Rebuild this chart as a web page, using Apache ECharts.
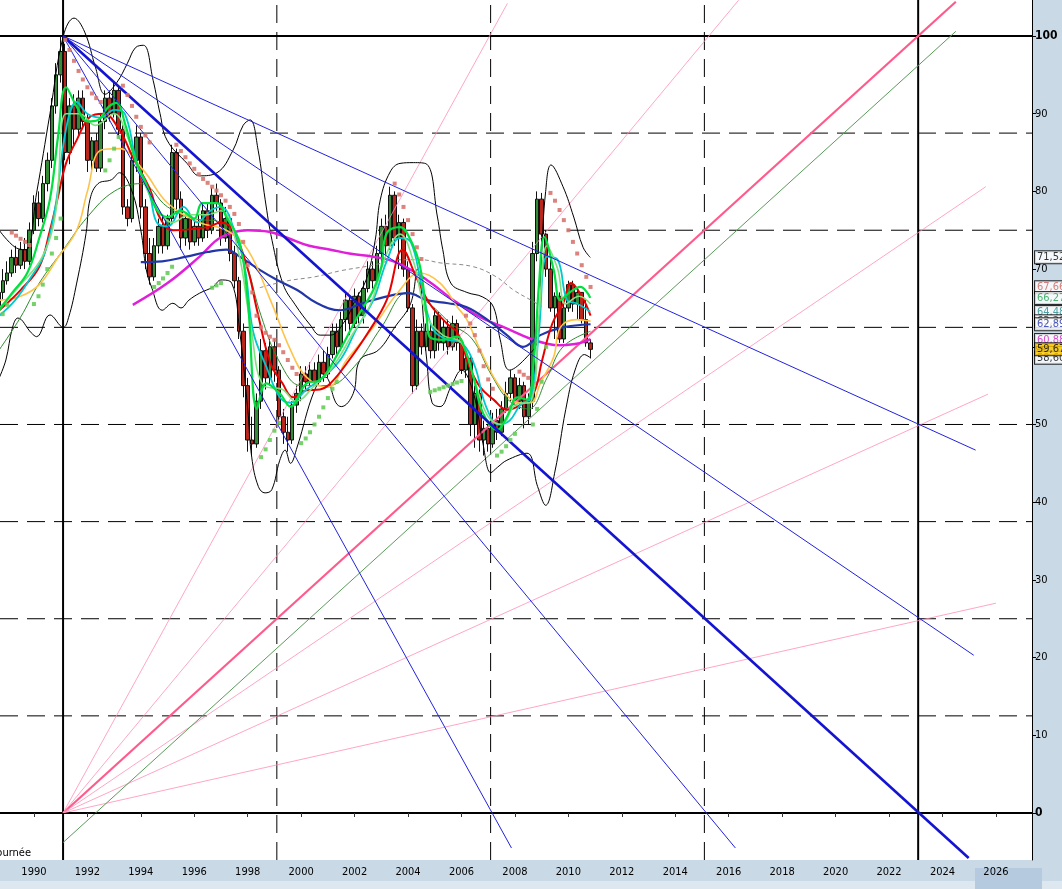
<!DOCTYPE html>
<html><head><meta charset="utf-8">
<script src="https://cdn.jsdelivr.net/npm/echarts@6/dist/echarts.min.js"></script>
<style>html,body{margin:0;padding:0;background:#fff}#c{width:1062px;height:889px}</style>
</head><body><div id="c"></div>
<script>
// ---------- DATA ----------
const xTickLabels = [1990,1992,1994,1996,1998,2000,2002,2004,2006,2008,2010,2012,2014,2016,2018,2020,2022,2024,2026];
const yTickLabels = [0,10,20,30,40,50,60,70,80,90,100];
const candleStart = 1988 + 8/12;   // first bar (Sep 1988), bimonthly bars
const candleStep = 1/6;
// [open, close, low, high]
const ohlc = [
[65,67,64.5,68],[67,68.5,66,70],
[68.5,69.5,68,71],[69.5,71.5,69,72.5],[71.5,70.5,69.5,73],[70.5,72.5,70,73.5],[72.5,71,70,74],[71,75,70.5,76],
[75,78.5,74.5,79.5],[78.5,76.5,75.5,80],[76.5,81,76,82],[81,84,80,85],[84,91,83,92],[91,95,90,96.5],
[95,98,94,100],[98,85,84,99],[85,91,83.5,92],[91,88,86,92.5],[88,92,87,93],[92,89,88,93],
[89,84,82.5,90],[84,86.5,82.7,87],[86.5,83,82.5,87.5],[83,89,82.5,90],[89,92,88,93],[92,90,89,93],
[90,93,89.5,94],[93,88,87,93.5],[88,78,77,88.5],[78,76.5,75.5,79],[76.5,84,76,85],[84,87,82.5,88.5],
[87,78,76.5,87.5],[78,72,70,79],[72,69,68,74],[69,73,68.5,74],[73,75.5,72,76.5],[75.5,73,72,77],
[73,76.5,72.5,77],[76.5,85,76,86],[85,79,77,85.5],[79,74,72.5,80],[74,76.5,73,77],[76.5,73.5,72.5,77],
[73.5,75.5,73,76.5],[75.5,74,73,77],[74,77.5,73.5,78.5],[77.5,75,74,78.5],[75,79.5,74.5,80.5],[79.5,78.5,77.5,81],
[78.5,74,73,79],[74,76.5,73.5,78],[76.5,72,71,77],[72,68.5,67.5,73],[68.5,62,61,69],[62,55,53.5,63],
[55,48,46.5,56],[48,47.5,46,51],[47.5,53,47,54],[53,59.5,52,61],[59.5,56,54.5,60.5],[56,60,55,61],
[60,57,55.5,61],[57,51,50,57.5],[51,49,47.5,52],[49,48,46.5,51],[48,52.5,47.5,53],[52.5,54,51.5,55],
[54,56.5,53,57.5],[56.5,55.5,54.5,57.5],[55.5,57,55,58],[57,55.5,55,58],[55.5,58,55,59],[58,56.5,55.5,59.5],
[56.5,59,56,60],[59,62,58.5,63],[62,60,59,63],[60,63.5,59.5,64.5],[63.5,66,62,67],[66,63,61.5,66.5],
[63,66.5,62.5,67.5],[66.5,64,63,67],[64,67.5,63,68.5],[67.5,70,67,71],[70,68.5,67.5,71],[68.5,72,68,73],
[72,75.5,70.5,76.5],[75.5,73,71.5,77],[73,79.5,72.5,80.6],[79.5,74,73,80],[74,76,70,77],[76,70,69,76.5],
[70,65,64.5,71],[65,55,54,65.5],[55,62,54.5,63.5],[62,60,59,63],[60,62,59.5,63],[62,59.5,58.5,63],
[59.5,64,58.5,65],[64,60.5,59.5,64.5],[60.5,62.5,59.5,63.5],[62.5,60,59,63.5],[60,63,59.5,64],[63,60.5,59.5,63.5],
[60.5,57,56.5,61],[57,58.5,56,59.5],[58.5,50,48.5,59],[50,54,47,55],[54,48,46.5,54.5],[48,49.5,46,50.5],
[49.5,47.5,46.5,50],[47.5,50.5,47,51.5],[50.5,49,48,52],[49,52,48.5,53],[52,54,51.5,55.5],[54,56,53,57],
[56,53,52.5,56.5],[53,55,52,56],[55,51,49.5,55.5],[51,53,50,54],[53,72,52,73.5],[72,79,71,80],
[79,74.5,73.5,79.8],[74.5,70,69,75],[70,65,64.5,71.5],[65,66.5,61,67],[66.5,61,60.5,67],[61,65,60.5,66],
[65,68,64.5,68.5],[68,65.5,64.5,68.5],[65.5,67,63.5,67.5],[67,63.5,63,67],[63.5,60.5,60,66],[60.5,59.67,58.5,61]
];
// indicator curves: [year, value]
const maRed = [[1988.7,64.7],[1989.5,67.3],[1990.2,70.3],[1990.6,75],[1990.9,79.3],[1991.2,83.6],[1991.6,86.6],[1992.1,89.6],[1992.6,90],[1993.2,87.9],[1993.7,84.4],[1994.35,80.2],[1994.7,76.7],[1995.2,75],[1996.5,75.4],[1997.0,76],[1997.45,75],[1998.0,70],[1998.35,64.7],[1998.85,57.9],[1999.3,55.3],[1999.7,53.5],[2000.2,54.4],[2000.7,54.5],[2001.1,55.3],[2001.8,58.3],[2002.5,61.8],[2003.2,66],[2003.8,72.5],[2004.3,69],[2004.8,65.6],[2005.45,63],[2005.85,61.8],[2006.3,57.4],[2006.7,54.8],[2007.2,53.2],[2007.7,51.9],[2008.2,52.5],[2008.7,54],[2009.0,58],[2009.4,63],[2009.8,65.5],[2010.1,68.2],[2010.5,66.5],[2010.83,64]];
const maYellow = [[1988.7,66],[1989.5,66.5],[1990.2,68],[1990.9,71.5],[1991.6,75],[1992.0,80],[1992.5,85.3],[1993.2,85.5],[1994.1,82.7],[1995.0,78.5],[1996.2,76],[1997.2,75],[1998.0,72.5],[1998.85,66],[1999.6,59.6],[2000.2,56.1],[2001.0,54.8],[2001.7,58.3],[2002.7,62.5],[2003.6,66.9],[2004.45,69.5],[2005.2,68.2],[2005.85,65.1],[2006.2,63.5],[2006.7,59.6],[2007.45,54.8],[2008.2,52.8],[2008.6,52.8],[2008.95,55.3],[2009.45,58.7],[2009.7,62.5],[2010.3,63.5],[2010.83,63.3]];
const maGreen = [[1988.7,64.7],[1989.2,67],[1989.75,69.5],[1990.2,74],[1990.6,79],[1990.9,87],[1991.2,93.4],[1991.6,90.9],[1992.0,89],[1992.4,89.2],[1992.8,90.9],[1993.1,91.4],[1993.4,88.8],[1993.8,84],[1994.2,81],[1994.6,77.6],[1995.0,76.7],[1995.5,77.5],[1996.0,76.5],[1996.3,78.5],[1996.85,78.5],[1997.2,76.7],[1997.7,73.4],[1998.0,66],[1998.35,52],[1998.7,55.3],[1999.2,54],[1999.6,52.3],[2000.2,55.3],[2000.7,55.7],[2001.45,59.6],[2002.1,63.8],[2002.7,67.3],[2003.0,70.3],[2003.2,74.6],[2003.7,75.4],[2004.1,73.7],[2004.45,70.3],[2004.7,63.8],[2004.8,61.3],[2005.3,60.9],[2005.85,61.3],[2006.1,60],[2006.45,56.1],[2006.8,51.5],[2007.35,49.3],[2007.7,51],[2008.1,53.5],[2008.45,53.2],[2008.7,58],[2008.9,68],[2009.1,74.1],[2009.45,69.9],[2009.7,66],[2010.05,67],[2010.45,67.7],[2010.7,67],[2010.82,66.3]];
const maCyan = [[1988.7,64],[1989.3,66],[1989.9,69],[1990.4,72],[1990.8,78],[1991.2,88],[1991.6,91.5],[1992.0,90],[1992.5,89.5],[1993.0,90.5],[1993.4,90],[1993.85,83.7],[1994.35,79.3],[1994.6,76],[1995.0,75.5],[1995.6,78],[1996.1,76],[1996.6,77.5],[1997.0,78],[1997.5,75],[1997.9,70],[1998.2,62],[1998.7,57.4],[1999.2,53.5],[1999.6,52.8],[2000.2,54.5],[2000.8,56],[2001.5,58.5],[2002.1,62.5],[2002.7,66],[2003.2,71],[2003.7,74],[2004.1,73.5],[2004.5,68],[2004.9,62.5],[2005.4,61],[2006.0,60.5],[2006.5,57.5],[2006.9,52.5],[2007.4,50],[2007.8,50.5],[2008.2,52.5],[2008.6,53.5],[2008.9,62],[2009.2,71.6],[2009.6,71.2],[2009.95,66],[2010.3,65.6],[2010.82,64.5]];
const maLime = [[1988.7,65],[1989.5,68],[1990.3,71.5],[1990.8,77],[1991.2,90],[1991.7,90],[1992.3,88.5],[1993.0,90],[1993.5,87],[1994.0,82],[1994.6,78],[1995.2,76],[1995.8,77],[1996.5,77],[1997.0,77.5],[1997.6,73],[1998.1,63],[1998.6,55],[1999.3,54.5],[1999.8,53],[2000.5,55],[2001.2,57.5],[2001.9,61.5],[2002.6,65.5],[2003.2,72],[2003.7,74.5],[2004.2,71],[2004.7,64],[2005.3,61.5],[2006.0,60.5],[2006.5,55.5],[2007.0,51],[2007.5,50],[2008.0,52.5],[2008.6,53],[2008.9,64],[2009.2,73],[2009.6,70],[2009.9,65.5],[2010.4,66.5],[2010.83,65.5]];
const maDarkGreen = [[1988.7,59.6],[1989.5,63.8],[1990.2,68.2],[1991.1,72.5],[1992.0,76.7],[1993.0,80],[1994.0,81],[1995.0,78],[1996.0,76.5],[1997.0,76],[1997.8,72],[1998.5,64],[1999.2,58],[2000.0,55],[2001.0,55],[2002.0,57.5],[2003.0,62.5],[2004.0,67],[2004.8,65.5],[2005.6,63],[2006.4,61],[2007.1,56.5],[2007.8,53],[2008.5,52],[2009.2,56],[2009.8,60],[2010.83,62]];
const maBlue = [[1994.0,70.9],[1994.8,71],[1995.7,71.6],[1996.5,72.2],[1997.2,72.5],[1997.7,71.6],[1998.45,69.9],[1999.1,68.6],[1999.85,67.3],[2000.6,65.6],[2001.45,64.7],[2002.3,65.6],[2003.1,66.4],[2004.0,66.9],[2004.7,66],[2005.5,65.6],[2006.2,65.1],[2007.0,63.4],[2007.7,61.5],[2008.3,60],[2008.95,61.5],[2009.8,62.5],[2010.83,62.9]];
const maMagenta = [[1993.7,65.4],[1995.0,68.2],[1996.2,71.6],[1997.0,74.1],[1998.0,75],[1998.8,74.8],[1999.5,74],[2000.3,73],[2001.1,72.5],[2001.8,72],[2002.7,71.6],[2003.6,70.8],[2004.7,68.6],[2005.7,66],[2006.7,63.8],[2007.6,62.5],[2008.6,61],[2009.2,60.4],[2009.7,60.2],[2010.3,60.4],[2010.55,60.6],[2010.83,61]];
const maGrayDash = [[1998.45,67.6],[1999.5,68.5],[2000.5,69],[2001.5,69.8],[2002.7,70.5],[2003.6,71.2],[2004.5,71.2],[2005.2,70.8],[2006.45,70.3],[2007.3,69],[2007.95,67.3],[2008.6,66],[2009.0,65.2]];
const bbUpper = [[1988.7,75],[1989.3,72.8],[1989.7,72.5],[1990.1,79.8],[1990.6,90],[1991.1,100],[1991.5,102.3],[1991.9,100.5],[1992.3,96],[1992.66,92.5],[1993.1,94],[1993.5,96.5],[1993.8,98.5],[1994.1,98.8],[1994.46,94.3],[1994.72,90],[1994.98,86.6],[1995.73,83.6],[1996.2,82],[1996.85,82.4],[1997.45,85.3],[1997.83,88.5],[1998.09,89.2],[1998.39,85.3],[1998.65,79],[1998.91,73.7],[1999.33,68],[1999.78,65.4],[2000.34,62.8],[2000.71,61.5],[2001.09,61.5],[2001.65,63.4],[2002.02,66],[2002.43,68.6],[2002.77,73.7],[2002.96,78.9],[2003.33,82.5],[2003.7,83.6],[2004.2,83.7],[2004.7,83.5],[2005.1,76.7],[2005.3,72.5],[2005.6,68.2],[2006.2,67],[2006.8,66.4],[2007.2,65.1],[2007.45,60.9],[2007.8,57],[2008.45,58.7],[2008.85,60.9],[2009.0,72],[2009.15,80],[2009.35,83.4],[2009.8,80.6],[2010.2,76.7],[2010.55,72.8],[2010.82,71.5]];
const bbLower = [[1988.7,56],[1988.95,58.3],[1989.2,62.5],[1989.4,63.7],[1989.9,61.8],[1990.1,61.3],[1990.6,64.1],[1991.1,62.5],[1991.3,63.8],[1991.6,68.2],[1991.95,74.6],[1992.1,79],[1992.4,81],[1992.9,81.5],[1993.2,82.4],[1993.65,80.2],[1994.0,75],[1994.2,70],[1994.4,67.7],[1994.8,64.7],[1995.2,65.6],[1995.5,65],[1995.8,66],[1996.2,66.9],[1996.7,67.7],[1997.0,68.6],[1997.4,68.2],[1997.7,62],[1998.0,52],[1998.15,45.8],[1998.4,42],[1998.65,41.2],[1998.9,41.6],[1999.2,45.4],[1999.4,46.7],[1999.6,45],[1999.85,47.1],[2000.5,54.4],[2000.9,56.1],[2001.3,52.8],[2001.5,52.3],[2001.95,54],[2002.2,58.3],[2002.9,59.6],[2003.5,62.5],[2004.1,65.6],[2004.34,70],[2004.7,58.3],[2004.9,52.8],[2005.2,52.3],[2005.6,54.8],[2006.0,57],[2006.45,54],[2006.8,47.6],[2007.1,43.8],[2007.35,44.5],[2007.7,45.4],[2008.45,46.3],[2008.85,42],[2009.15,39.6],[2009.5,44],[2009.9,51.9],[2010.25,57],[2010.6,59],[2010.82,58.6]];
const sarAbove = [[1989.17,74.7],[1989.33,74.3],[1989.5,73.9],[1989.67,73.5],[1989.83,73.1],
[1991.17,99.5],[1991.33,98.2],[1991.5,96.8],[1991.67,95.5],[1991.83,94.4],[1992.0,93.4],[1992.17,92.6],[1992.33,92],[1992.5,91.5],
[1993.33,93.6],[1993.5,92.4],[1993.67,91],[1993.83,89.6],[1994.0,88.3],[1994.17,87.2],[1994.33,86.3],
[1995.33,86],[1995.5,85.2],[1995.67,84.4],[1995.83,83.6],[1996.0,82.9],[1996.17,82.2],[1996.33,81.6],[1996.5,81.1],[1996.67,80.6],[1996.83,80.1],[1997.0,79.5],[1997.17,78.8],[1997.33,78],[1997.5,77.1],[1997.67,75.8],[1997.83,73.5],[1998.0,70.5],[1998.17,67],[1998.33,64],[1998.5,62.5],[1998.67,61.8],[1998.83,61.3],[1999.0,60.9],[1999.17,60.2],[1999.33,59.3],[1999.5,58.3],[1999.67,57.3],[1999.83,56.5],
[2003.5,81],[2003.67,79.6],[2003.83,78],[2004.0,76.3],[2004.17,74.5],[2004.33,72.8],[2004.5,71.3],
[2006.17,64],[2006.33,63],[2006.5,61.5],[2006.67,59.5],[2006.83,57.5],[2007.0,55.8],[2007.17,54.6],
[2008.17,56.8],[2008.33,56.4],[2008.5,56],
[2009.33,79.8],[2009.5,78.8],[2009.67,77.6],[2009.83,76.3],[2010.0,75],[2010.17,73.5],[2010.33,72],[2010.5,70.5],[2010.67,69],[2010.83,67.7]];
const sarBelow = [[1988.67,63],[1988.83,64.2],[1989.0,65.4],
[1990.0,65.5],[1990.17,66.5],[1990.33,68],[1990.5,70],[1990.67,72],[1990.83,74],[1991.0,76.5],
[1992.67,82.7],[1992.83,84],[1993.0,85.5],[1993.17,87],
[1994.5,67.7],[1994.67,68.2],[1994.83,68.8],[1995.0,69.5],[1995.17,70.3],
[1996.67,67.6],[1996.83,67.9],[1997.0,68.2],
[1998.5,45.8],[1998.67,46.8],[1998.83,48],[1999.0,49.2],[1999.17,50.2],
[2000.0,47.6],[2000.17,48.2],[2000.33,49],[2000.5,50],[2000.67,51],[2000.83,52.2],[2001.0,53.4],[2001.17,54.6],[2001.33,55.5],
[2004.83,54.2],[2005.0,54.4],[2005.17,54.6],[2005.33,54.8],[2005.5,55],[2005.67,55.2],[2005.83,55.4],[2006.0,55.6],
[2007.33,46],[2007.5,46.5],[2007.67,47.2],[2007.83,48],[2008.0,48.8],
[2008.67,50],[2008.83,52],[2009.0,55.5],[2009.17,60]];
// Gann square
const gannTimeSolid = [1991.09, 2023.09];
const gannTimeDashed = [1999.09, 2007.09, 2015.09];
const gannPriceSolid = [0, 100];
const gannPriceDashed = [12.5, 25, 37.5, 50, 62.5, 75, 87.5];
const fanTopOrigin = [1991.09, 100];
const fanBottomOrigin = [1991.09, 0];
const blueFanEnds = [[2025.24,46.7],[2025.17,20.3],[2024.98,-5.8],[2016.25,-4.5],[2007.87,-4.5]];
const pinkFanEnds = [[2024.5,104.4],[2016.37,104.6],[2007.72,104.2],[2025.62,80.6],[2025.7,53.9],[2026.0,27]];
const parallelLine = [[1991.09,-3.8],[2024.5,100.6]];
const rightLabels = [71.52, 67.66, 66.27, 64.48, 63.28, 62.89, 60.88, 58.60, 59.67];

// ---------- CHART ----------
const X_MIN = 1988.73, X_MAX = 2027.35, Y_MIN = -6.05, Y_MAX = 104.63;
const FONT = "'Liberation Sans Narrow','DejaVu Sans Condensed',sans-serif";
const chart = echarts.init(document.getElementById('c'));
const series = [];
function addLine(data, color, width, z, extra) {
  series.push(Object.assign({type:'line', data:data, symbol:'none', showSymbol:false, silent:true,
    animation:false, z:z, lineStyle:{color:color, width:width}}, extra || {}));
}
// grid lines of the Gann square
gannPriceDashed.forEach(v => addLine([[X_MIN,v],[X_MAX,v]], '#000', 1, 1, {lineStyle:{color:'#000',width:1,type:[18,9]}}));
gannTimeDashed.forEach(t => addLine([[t,Y_MIN],[t,Y_MAX]], '#000', 1, 1, {lineStyle:{color:'#000',width:1,type:[18,9]}}));
gannPriceSolid.forEach(v => addLine([[X_MIN,v],[X_MAX,v]], '#000', 2, 1));
gannTimeSolid.forEach(t => addLine([[t,Y_MIN],[t,Y_MAX]], '#000', 2, 1));

// fans
const pinkStyles = [['#ff5a8c',2.2],['#ff8fb8',0.8],['#ff8fb8',0.8],['#ff8fb8',0.8],['#ff8fb8',0.8],['#ff8fb8',0.8]];
pinkFanEnds.forEach((e,i) => addLine([fanBottomOrigin, e], pinkStyles[i][0], pinkStyles[i][1], 4));
addLine(parallelLine, '#5c9a5c', 1, 4);

// candles
const candleData = ohlc.map((d,i) => [candleStart + i*candleStep, d[0], d[1], d[2], d[3]]);
series.push({type:'candlestick', data:candleData, encode:{x:0, y:[1,2,3,4]}, barWidth:4, z:3, silent:true, animation:false,
  itemStyle:{color:'#358a35', color0:'#b8261c', borderColor:'#111', borderColor0:'#111', borderWidth:1}});

// indicators
addLine(bbUpper, '#000', 1, 5, {smooth:0.4});
addLine(bbLower, '#000', 1, 5, {smooth:0.4});
addLine(maGrayDash, '#8a8a8a', 1, 5, {smooth:0.4, lineStyle:{color:'#8a8a8a', width:1, type:[4,3]}});
addLine(maDarkGreen, '#2e8b2e', 1, 5, {smooth:0.4});
addLine(maMagenta, '#e020d8', 2.5, 6, {smooth:0.4});
addLine(maBlue, '#2236a8', 2.2, 6, {smooth:0.4});
addLine(maYellow, '#ffc34a', 1.6, 6, {smooth:0.4});
addLine(maRed, '#e80000', 2, 6, {smooth:0.4});
addLine(maCyan, '#00c8d0', 1.8, 6, {smooth:0.4});
addLine(maLime, '#7ee07e', 1.6, 6, {smooth:0.4});
addLine(maGreen, '#00e040', 2.2, 6, {smooth:0.4});

// blue fan (drawn over candles)
const blueStyles = [['#2222dd',1],['#2222dd',1],['#1414d0',2.6],['#2222dd',1],['#2222dd',1]];
blueFanEnds.forEach((e,i) => addLine([fanTopOrigin, e], blueStyles[i][0], blueStyles[i][1], 7));

// SAR
series.push({type:'scatter', data:sarAbove, symbol:'rect', symbolSize:4, z:7, silent:true, animation:false,
  itemStyle:{color:'#d8766f', opacity:0.9}});
series.push({type:'scatter', data:sarBelow, symbol:'rect', symbolSize:4, z:7, silent:true, animation:false,
  itemStyle:{color:'#66cc5a', opacity:0.9}});

// right-hand value boxes
const labelColors = ['#000','#d0605a','#20a050','#208c8c','#303030','#2030b0','#d020c0','#000','#000'];
const labelBg = ['#fff','#fff','#fff','#fff','#fff','#fff','#fff','#fff','#ffc800'];
series.push({type:'scatter', symbolSize:0, z:20, silent:true, animation:false, clip:false,
  data: rightLabels.map((v,i) => ({value:[X_MAX, v], label:{show:true, position:'right', distance:3,
    formatter: v.toFixed(2).replace('.', ','), color:labelColors[i], backgroundColor:labelBg[i],
    borderColor:'#000', borderWidth:1, padding:[0,2,0,2], fontSize:11, lineHeight:12, fontFamily:FONT}}))});

chart.setOption({
  backgroundColor:'#c9d9e6',
  animation:false,
  grid:{left:0, right:30, top:0, bottom:29, show:true, backgroundColor:'#ffffff', borderWidth:0},
  xAxis:{type:'value', min:X_MIN, max:X_MAX, z:5,
    axisLine:{show:true, lineStyle:{color:'#000', width:1}},
    axisTick:{show:true, length:4, customValues:xTickLabels, lineStyle:{color:'#333'}},
    axisLabel:{customValues:xTickLabels, color:'#000', fontSize:11, fontFamily:FONT, margin:7, formatter:v=>String(v)},
    splitLine:{show:false}},
  yAxis:{type:'value', position:'right', min:Y_MIN, max:Y_MAX,
    axisLine:{show:true, lineStyle:{color:'#000', width:1}},
    axisTick:{show:true, length:4, customValues:yTickLabels, lineStyle:{color:'#000'}},
    axisLabel:{customValues:yTickLabels, color:'#000', fontSize:11, fontFamily:FONT, margin:3,
      formatter:v => (v===0||v===100) ? '{b|'+v+'}' : String(v),
      rich:{b:{fontWeight:'bold', fontSize:12, fontFamily:FONT, color:'#000'}}},
    splitLine:{show:false}},
  graphic:[
    {type:'rect', z:-10, shape:{x:0, y:881, width:1062, height:8}, style:{fill:'#dde7ef'}},
    {type:'rect', z:-10, shape:{x:975, y:868, width:67, height:21}, style:{fill:'#b5cade'}},
    {type:'text', z:10, x:31, y:853, style:{text:'Journée', textAlign:'right', textVerticalAlign:'middle',
      font:"11px 'Liberation Sans Narrow','DejaVu Sans Condensed',sans-serif", fill:'#000'}}
  ],
  series:series
});
</script>
</body></html>
